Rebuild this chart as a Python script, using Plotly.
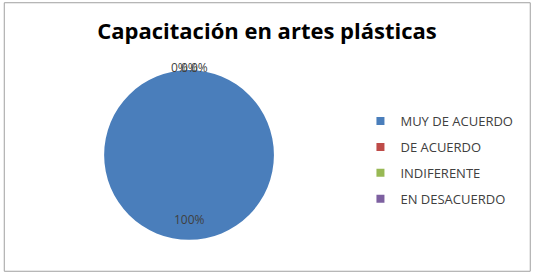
import math
import plotly.graph_objects as go

title = "Capacitación en artes plásticas"
labels = ["MUY DE ACUERDO", "DE ACUERDO", "INDIFERENTE", "EN DESACUERDO"]
values = [100, 0, 0, 0]
colors = ["#4A7EBB", "#BE4B48", "#98B954", "#7D60A0"]

W, H = 534, 274
dom_x = [0.195, 0.513]
dom_y = [0.124, 0.745]

fig = go.Figure()
fig.add_trace(go.Pie(
    labels=labels, values=values, sort=False, direction="clockwise", rotation=0,
    marker=dict(colors=colors, line=dict(width=0)),
    textinfo="none", hoverinfo="label+percent", showlegend=False,
    domain=dict(x=dom_x, y=dom_y),
))
# legend entries (one per category)
for lab, col in zip(labels, colors):
    fig.add_trace(go.Scatter(
        x=[None], y=[None], mode="markers", name=lab, legendgroup=lab,
        marker=dict(symbol="square", size=8, color=col),
    ))

# data labels positioned from slice angles
cx = (dom_x[0] + dom_x[1]) / 2
cy = (dom_y[0] + dom_y[1]) / 2
r_px = (dom_x[1] - dom_x[0]) * W / 2
total = sum(values)
cum = 0
annotations = []
offsets = {0: 0, 1: -10, 2: 0, 3: 10}
for i, v in enumerate(values):
    frac = v / total
    mid = (cum + frac / 2) * 2 * math.pi
    cum += frac
    f = 0.76 if frac > 0.05 else 1.03
    px = cx * W + f * r_px * math.sin(mid) + offsets[i]
    py = cy * H + f * r_px * math.cos(mid)
    annotations.append(dict(
        x=px / W, y=py / H, xref="paper", yref="paper",
        text=f"{round(frac * 100)}%", showarrow=False,
        font=dict(family="Open Sans, sans-serif", size=12, color="#404040"),
        xanchor="center", yanchor="middle",
    ))

fig.update_layout(
    width=W, height=H,
    margin=dict(l=0, r=0, t=0, b=0),
    paper_bgcolor="white", plot_bgcolor="white",
    xaxis=dict(visible=False), yaxis=dict(visible=False),
    title=dict(text=title, x=0.5, xanchor="center", y=0.885, yanchor="middle",
               font=dict(family="Open Sans, sans-serif", size=22, color="#000000", weight="bold")),
    legend=dict(x=0.675, y=0.613, xanchor="left", yanchor="top",
                font=dict(family="Open Sans, sans-serif", size=13, color="#404040"),
                itemwidth=30, tracegroupgap=6, traceorder="grouped"),
    annotations=annotations,
    shapes=[dict(type="rect", xref="paper", yref="paper", x0=0.008, x1=0.993, y0=0.01, y1=0.99,
                 line=dict(color="#A0A0A0", width=1))],
)

fig.write_html("out.html")
